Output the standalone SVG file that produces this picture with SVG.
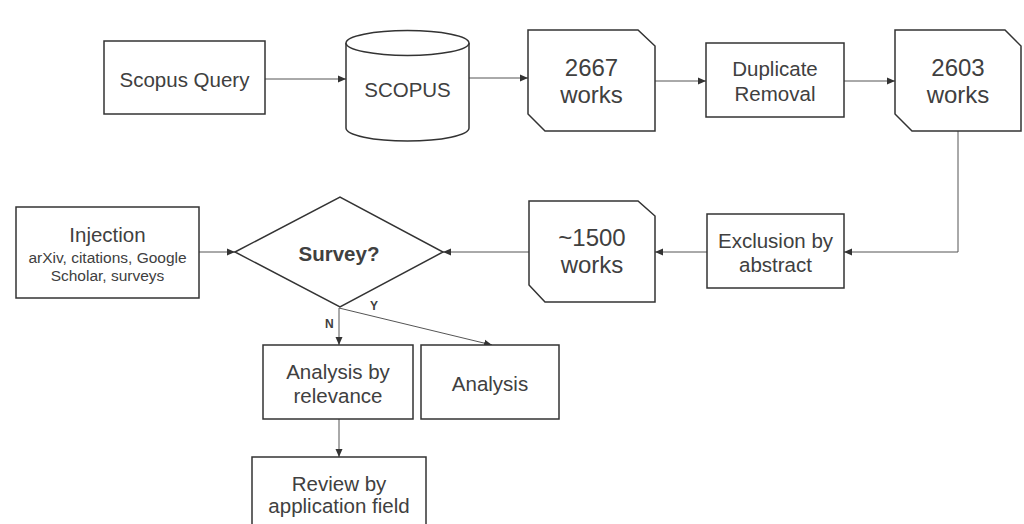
<svg xmlns="http://www.w3.org/2000/svg" width="1024" height="524" viewBox="0 0 1024 524">
<defs>
<marker id="ah" markerWidth="8" markerHeight="8" refX="8" refY="4" orient="auto" markerUnits="userSpaceOnUse">
<path d="M0,0.5 L8,4 L0,7.5 Z" fill="#333"/>
</marker>
<style>
.n{fill:#fff;stroke:#333;stroke-width:1.5}
.t{font-family:"Liberation Sans",Arial,sans-serif;fill:#404040;text-anchor:middle;font-size:20.5px}
.b{font-size:24px}
.s{font-size:15.5px}
.c{fill:none;stroke:#555;stroke-width:1}
.l{font-family:"Liberation Sans",Arial,sans-serif;fill:#404040;font-size:12px;font-weight:bold}
</style>
</defs>
<rect width="1024" height="524" fill="#fff"/>
<g id="connectors">
<line class="c" x1="265" y1="79" x2="346" y2="79" marker-end="url(#ah)"/>
<line class="c" x1="469" y1="78" x2="528" y2="78" marker-end="url(#ah)"/>
<line class="c" x1="655" y1="81" x2="706" y2="81" marker-end="url(#ah)"/>
<line class="c" x1="844" y1="81" x2="895" y2="81" marker-end="url(#ah)"/>
<polyline class="c" points="958,131 958,252 844,252" stroke="#999" marker-end="url(#ah)"/>
<line class="c" x1="707" y1="252" x2="655" y2="252" marker-end="url(#ah)"/>
<line class="c" x1="529" y1="252" x2="443" y2="252" marker-end="url(#ah)"/>
<line class="c" x1="199" y1="252" x2="235" y2="252" marker-end="url(#ah)"/>
<line class="c" x1="339" y1="308" x2="339" y2="345" marker-end="url(#ah)"/>
<line class="c" x1="339" y1="308" x2="492" y2="345" marker-end="url(#ah)"/>
<line class="c" x1="339" y1="419" x2="339" y2="457" marker-end="url(#ah)"/>
<text class="l" x="370" y="310">Y</text>
<text class="l" x="325" y="328">N</text>
</g>
<g id="scopus-query">
<rect class="n" x="104" y="41" width="161" height="73"/>
<text class="t" x="184.5" y="87">Scopus Query</text>
</g>
<g id="scopus">
<path class="n" d="M346,43 A61.5,12.5 0 0 1 469,43 L469,128 A61.5,13 0 0 1 346,128 Z"/>
<path class="n" fill="none" d="M346,43 A61.5,12.5 0 0 0 469,43"/>
<text class="t" x="407.5" y="97">SCOPUS</text>
</g>
<g id="works-2667">
<path class="n" d="M528,30 L638,30 L655,46 L655,131 L545,131 L528,114 Z"/>
<text class="t b" x="591.5" y="76">2667</text>
<text class="t b" x="591.5" y="103">works</text>
</g>
<g id="duplicate-removal">
<rect class="n" x="706" y="43" width="138" height="74"/>
<text class="t" x="775" y="76">Duplicate</text>
<text class="t" x="775" y="101">Removal</text>
</g>
<g id="works-2603">
<path class="n" d="M895,30 L1005,30 L1021,46 L1021,131 L912,131 L895,114 Z"/>
<text class="t b" x="958" y="76">2603</text>
<text class="t b" x="958" y="103">works</text>
</g>
<g id="exclusion">
<rect class="n" x="707" y="214" width="137" height="74"/>
<text class="t" x="775.5" y="248">Exclusion by</text>
<text class="t" x="775.5" y="272">abstract</text>
</g>
<g id="works-1500">
<path class="n" d="M529,201 L638,201 L655,216 L655,302 L545,302 L529,285 Z"/>
<text class="t b" x="592" y="246">~1500</text>
<text class="t b" x="592" y="273">works</text>
</g>
<g id="survey">
<path class="n" d="M235,252 L340,197 L443,252 L340,307 Z"/>
<text class="t" x="339" y="261" font-weight="bold" font-size="20px">Survey?</text>
</g>
<g id="injection">
<rect class="n" x="16" y="207" width="183" height="91"/>
<text class="t" x="107.5" y="242">Injection</text>
<text class="t s" x="107.5" y="263">arXiv, citations, Google</text>
<text class="t s" x="107.5" y="281">Scholar, surveys</text>
</g>
<g id="analysis-relevance">
<rect class="n" x="263" y="345" width="150" height="74"/>
<text class="t" x="338" y="379">Analysis by</text>
<text class="t" x="338" y="403">relevance</text>
</g>
<g id="analysis">
<rect class="n" x="421" y="345" width="138" height="74"/>
<text class="t" x="490" y="391">Analysis</text>
</g>
<g id="review">
<rect class="n" x="252" y="457" width="174" height="80"/>
<text class="t" x="339" y="491">Review by</text>
<text class="t" x="339" y="513">application field</text>
</g>
</svg>
